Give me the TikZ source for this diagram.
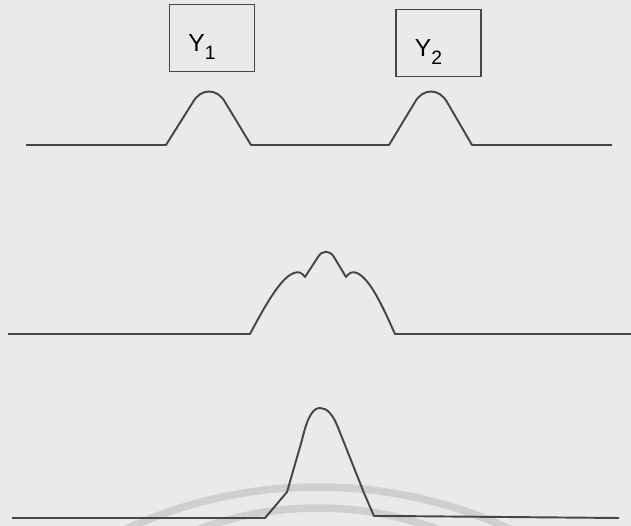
\documentclass[tikz,border=0pt]{standalone}
\usepackage{fontspec}
\setmainfont{Liberation Sans}
\usepackage{tikz}
\usetikzlibrary{positioning, calc}
\definecolor{paper}{RGB}{233,234,236}
\definecolor{ink}{RGB}{70,70,72}
\definecolor{stamp}{RGB}{206,207,209}
\newcommand{\ylbl}[1]{\raisebox{-7.5pt}[0pt][0pt]{Y\raisebox{-5pt}{\fontsize{11}{13}\selectfont #1}}\hspace*{11.4pt}}

\begin{document}
\begin{tikzpicture}[x=0.02cm, y=-0.02cm,
  lbl/.style={draw=ink, line width=0.9pt, minimum width=1.7cm, minimum height=1.34cm, inner sep=0pt, font=\fontsize{14}{16}\selectfont},
  sig/.style={draw=ink, line width=1.1pt, line join=round},
  ring/.style={draw=stamp, line width=0.15cm},
]
% Page
\fill[paper] (0,0) rectangle (631,526);
\useasboundingbox (0,0) rectangle (631,526);
% Faint stamp rings
\begin{scope}
  \clip (0,0) rectangle (631,526);
  \draw[ring] (318,945) circle (458);
  \draw[ring] (318,853) circle (345);
\end{scope}

% Labels
\node[lbl] (y1) at (212,38) {\ylbl{1}};
\node[lbl, right=2.8cm of y1, yshift=-0.1cm] (y2) {\ylbl{2}};

% Two separate pulses
\draw[sig] (26,145) -- (166,145) -- (193,102) .. controls (201,88) and (217,88) .. (225,102) -- (251,145)
  -- (389,145) -- (415,102) .. controls (423,88) and (439,88) .. (447,102) -- (472,145) -- (612,145);
% Overlapping pulses
\draw[sig] (8,334) -- (250,334) .. controls (268,300) and (282,277) .. (294,273)
  .. controls (299,271) and (302,273) .. (305,277)
  -- (318,257) .. controls (322,250) and (330,250) .. (334,257) -- (346,277)
  .. controls (349,273) and (352,271) .. (357,273) .. controls (370,279) and (382,305) .. (395,334) -- (631,334);
% Merged pulse
\draw[sig] (12,518) -- (265,518) -- (287,492) -- (302,440) .. controls (308,414) and (314,408) .. (320,408)
  .. controls (327,408) and (333,414) .. (339,430) -- (364,493) -- (374,516) -- (392,516) -- (619,518);
\end{tikzpicture}
\end{document}
